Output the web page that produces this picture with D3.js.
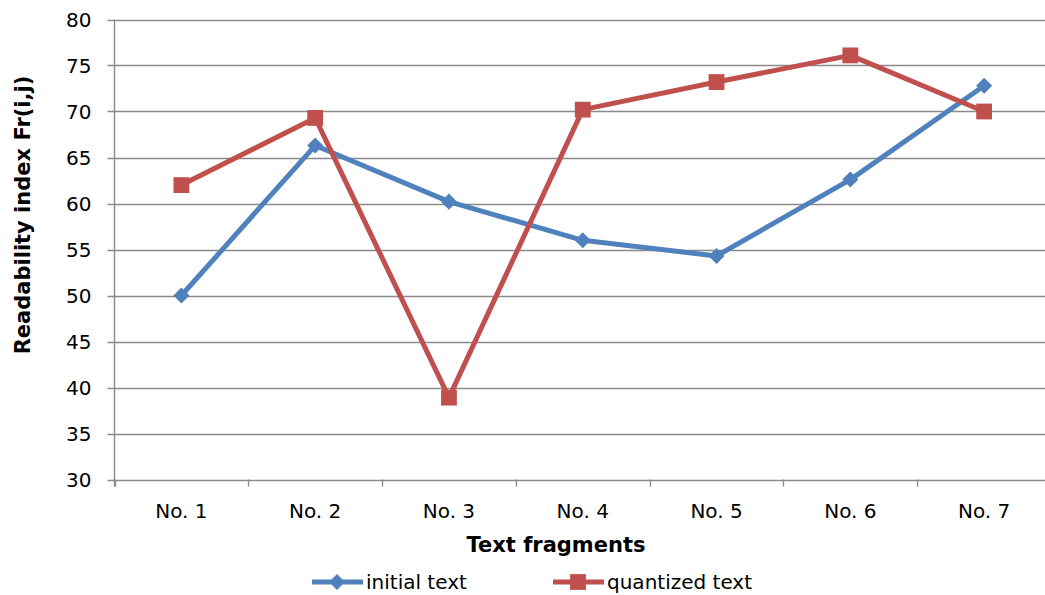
<!DOCTYPE html>
<html>
<head>
<meta charset="utf-8">
<script src="https://cdn.jsdelivr.net/npm/d3@7"></script>
<style>
  body { margin: 0; background: #fff; }
  text { font-family: "DejaVu Sans", Verdana, sans-serif; fill: #000; }
</style>
</head>
<body>
<div id="chart"></div>
<script>
// data
var categories = ["No. 1", "No. 2", "No. 3", "No. 4", "No. 5", "No. 6", "No. 7"];
var initialText = [50, 66.3, 60.2, 56, 54.3, 62.6, 72.8];
var quantizedText = [62, 69.3, 38.9, 70.2, 73.2, 76.1, 70];
var yTicks = [30, 35, 40, 45, 50, 55, 60, 65, 70, 75, 80];

var width = 1045, height = 595;
var plotLeft = 114.5, plotRight = 1051, plotTop = 19.5, plotBottom = 479.5;

var svg = d3.select("#chart").append("svg")
    .attr("width", width)
    .attr("height", height);

var x = d3.scaleBand()
    .domain(categories)
    .range([plotLeft, plotRight]);

var y = d3.scaleLinear()
    .domain([30, 80])
    .range([plotBottom, plotTop]);

// horizontal gridlines
svg.append("g").selectAll("line")
    .data(yTicks)
    .enter().append("line")
    .attr("x1", plotLeft - 7).attr("x2", plotRight)
    .attr("y1", function (d) { return Math.round(y(d)) + 0.5; })
    .attr("y2", function (d) { return Math.round(y(d)) + 0.5; })
    .attr("stroke", "#8a8a8a")
    .attr("stroke-width", 1.4);

// y axis line
svg.append("line")
    .attr("x1", plotLeft).attr("x2", plotLeft)
    .attr("y1", plotTop).attr("y2", plotBottom + 7)
    .attr("stroke", "#8a8a8a").attr("stroke-width", 1.4);

// x tick marks at category boundaries
var bounds = categories.map(function (c) { return x(c); });
svg.append("g").selectAll("line")
    .data(bounds)
    .enter().append("line")
    .attr("x1", function (d) { return Math.round(d) + 0.5; })
    .attr("x2", function (d) { return Math.round(d) + 0.5; })
    .attr("y1", plotBottom).attr("y2", plotBottom + 7)
    .attr("stroke", "#8a8a8a").attr("stroke-width", 1.4);

// y tick labels
svg.append("g").selectAll("text")
    .data(yTicks)
    .enter().append("text")
    .attr("x", plotLeft - 23)
    .attr("y", function (d) { return y(d); })
    .attr("dy", "0.36em")
    .attr("text-anchor", "end")
    .style("font-size", "20px")
    .text(function (d) { return d; });

// x tick labels
svg.append("g").selectAll("text")
    .data(categories)
    .enter().append("text")
    .attr("x", function (d) { return x(d) + x.bandwidth() / 2; })
    .attr("y", 518)
    .attr("text-anchor", "middle")
    .style("font-size", "20px")
    .text(function (d) { return d; });

// axis titles
svg.append("text")
    .attr("x", 556).attr("y", 552)
    .attr("text-anchor", "middle")
    .style("font-size", "21px").style("font-weight", "bold")
    .text("Text fragments");

svg.append("text")
    .attr("transform", "translate(30,215) rotate(-90)")
    .attr("text-anchor", "middle")
    .style("font-size", "21px").style("font-weight", "bold")
    .text("Readability index Fr(i,j)");

var blue = "#4f81bd", red = "#c0504d";
var cx = function (d, i) { return x(categories[i]) + x.bandwidth() / 2; };

var line = d3.line()
    .x(function (d, i) { return x(categories[i]) + x.bandwidth() / 2; })
    .y(function (d) { return y(d); });

var diamond = d3.symbol().type(d3.symbolDiamond2).size(165);
var square = d3.symbol().type(d3.symbolSquare).size(250);

svg.append("path")
    .datum(initialText)
    .attr("d", line)
    .attr("fill", "none").attr("stroke", blue).attr("stroke-width", 5)
    .attr("stroke-linejoin", "round");

svg.append("path")
    .datum(quantizedText)
    .attr("d", line)
    .attr("fill", "none").attr("stroke", red).attr("stroke-width", 5)
    .attr("stroke-linejoin", "round");

svg.append("g").selectAll("path")
    .data(initialText)
    .enter().append("path")
    .attr("transform", function (d, i) { return "translate(" + cx(d, i) + "," + y(d) + ")"; })
    .attr("d", diamond)
    .attr("fill", blue);

svg.append("g").selectAll("path")
    .data(quantizedText)
    .enter().append("path")
    .attr("transform", function (d, i) { return "translate(" + cx(d, i) + "," + y(d) + ")"; })
    .attr("d", square)
    .attr("fill", red);

// legend
var legend = [
    { name: "initial text", color: blue, sym: diamond, x0: 312 },
    { name: "quantized text", color: red, sym: square, x0: 553 }
];
var lg = svg.append("g").selectAll("g")
    .data(legend)
    .enter().append("g")
    .attr("transform", function (d) { return "translate(" + d.x0 + ",582)"; });

lg.append("line")
    .attr("x1", 0).attr("x2", 51)
    .attr("y1", 0).attr("y2", 0)
    .attr("stroke", function (d) { return d.color; })
    .attr("stroke-width", 5);

lg.append("path")
    .attr("transform", "translate(25,0)")
    .attr("d", function (d) { return d.sym(); })
    .attr("fill", function (d) { return d.color; });

lg.append("text")
    .attr("x", 54).attr("y", 0).attr("dy", "0.36em")
    .style("font-size", "20px")
    .text(function (d) { return d.name; });
</script>
</body>
</html>
